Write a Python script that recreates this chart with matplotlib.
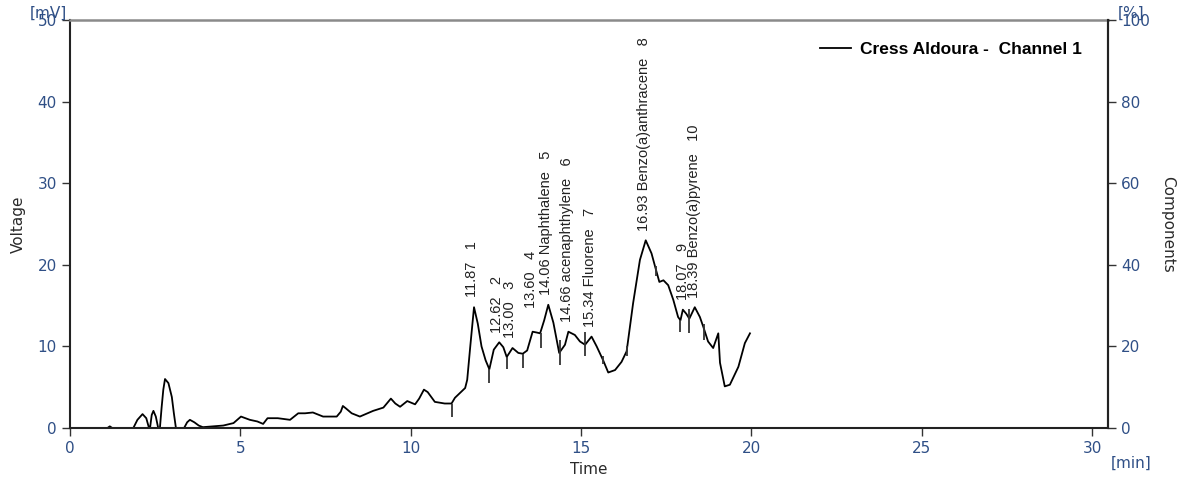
import numpy as np
import matplotlib
matplotlib.use("Agg")
import matplotlib.pyplot as plt

# Chromatogram trace: retention time [min] and detector voltage [mV]
time_min = [
    0.00, 1.10, 1.17, 1.24, 1.86, 1.98, 2.13, 2.24, 2.32, 2.35, 2.40, 2.45,
    2.52, 2.59, 2.64, 2.69, 2.74, 2.79, 2.89, 2.99, 3.05, 3.11, 3.35, 3.44,
    3.52, 3.65, 3.78, 3.90, 4.20, 4.50, 4.80, 5.02, 5.28, 5.50, 5.67, 5.80,
    6.10, 6.46, 6.70, 6.90, 7.13, 7.43, 7.83, 7.95, 8.01, 8.10, 8.27, 8.51,
    8.90, 9.20, 9.42, 9.55, 9.69, 9.90, 10.13, 10.25, 10.39, 10.50, 10.71,
    11.00, 11.20, 11.30, 11.45, 11.60, 11.66, 11.75, 11.86, 11.97, 12.08,
    12.20, 12.31, 12.44, 12.60, 12.72, 12.82, 12.99, 13.16, 13.29, 13.42,
    13.58, 13.70, 13.80, 13.92, 14.04, 14.19, 14.36, 14.53, 14.63, 14.82,
    14.97, 15.12, 15.31, 15.46, 15.65, 15.80, 16.00, 16.19, 16.34, 16.53,
    16.73, 16.90, 17.07, 17.20, 17.30, 17.42, 17.56, 17.71, 17.85, 17.92,
    17.99, 18.09, 18.18, 18.34, 18.49, 18.59, 18.73, 18.88, 19.03, 19.08,
    19.22, 19.37, 19.62, 19.81, 19.96,
]
voltage_mv = [
    0.0, 0.0, 0.2, 0.0, 0.0, 1.0, 1.7, 1.2, 0.0, 0.0, 1.6, 2.1,
    1.4, 0.0, 0.0, 2.5, 4.7, 6.0, 5.5, 3.8, 1.8, 0.0, 0.0, 0.7,
    1.0, 0.7, 0.3, 0.1, 0.2, 0.3, 0.6, 1.4, 1.0, 0.8, 0.5, 1.2,
    1.2, 1.0, 1.8, 1.8, 1.9, 1.4, 1.4, 2.0, 2.7, 2.4, 1.8, 1.4,
    2.1, 2.5, 3.6, 3.0, 2.6, 3.3, 2.9, 3.6, 4.7, 4.4, 3.2,
    3.0, 3.0, 3.7, 4.3, 4.9, 5.9, 10.0, 14.8, 12.8, 10.0,
    8.3, 7.2, 9.6, 10.5, 9.9, 8.7, 9.8, 9.2, 9.1, 9.5,
    11.8, 11.7, 11.6, 13.2, 15.1, 12.9, 9.2, 10.2, 11.8, 11.4,
    10.6, 10.2, 11.2, 10.0, 8.3, 6.8, 7.1, 8.1, 9.4, 15.3,
    20.6, 23.0, 21.4, 19.4, 17.9, 18.1, 17.5, 15.7, 13.6, 13.2,
    14.5, 14.0, 13.4, 14.8, 13.6, 12.4, 10.6, 9.8, 11.6, 8.0,
    5.1, 5.3, 7.5, 10.4, 11.6,
]

# Peak start/end markers: time, top and bottom of each tick [mV]
marker_t = [11.20, 12.31, 12.82, 13.29, 13.82, 14.37, 15.12, 15.65, 16.34, 17.20, 17.90, 18.18, 18.60]
marker_top = [3.0, 7.2, 8.7, 9.1, 11.6, 10.8, 11.8, 8.8, 10.0, 19.8, 13.2, 14.6, 12.8]
marker_bot = [1.3, 5.5, 7.2, 7.4, 9.8, 7.7, 8.8, 7.9, 8.8, 18.6, 11.8, 11.6, 10.8]

# Identified peaks
peak_rt = [11.87, 12.62, 13.00, 13.60, 14.06, 14.66, 15.34, 16.93, 18.07, 18.39]
peak_height = [14.8, 10.5, 9.8, 13.5, 15.1, 11.8, 11.2, 23.0, 14.5, 14.7]
peak_name = ["", "", "", "", "Naphthalene", "acenaphthylene", "Fluorene",
             "Benzo(a)anthracene", "", "Benzo(a)pyrene"]
peak_id = [1, 2, 3, 4, 5, 6, 7, 8, 9, 10]

tick_col = "#2f4f86"
label_col = "#2a2a2a"

fig = plt.figure(figsize=(11.98, 4.83), dpi=100)
ax = fig.add_axes([0.0584, 0.1139, 0.8665, 0.8447])

ax.plot(time_min, voltage_mv, color="black", lw=1.3, label="Cress Aldoura -  Channel 1")
ax.vlines(marker_t, marker_bot, marker_top, color="#333333", lw=1.3)

for rt, h, name, pid in zip(peak_rt, peak_height, peak_name, peak_id):
    txt = f"{rt:.2f} {name}   {pid}" if name else f"{rt:.2f}   {pid}"
    ax.text(rt - 0.08, h + 1.2, txt, rotation=90, ha="center", va="bottom",
            fontsize=10.5, color="#222222", family="Liberation Sans")

ax.set_xlim(0, 30.47)
ax.set_ylim(0, 50)
ax.set_xticks(range(0, 31, 5))
ax.set_yticks(range(0, 51, 10))
ax.tick_params(direction="out", length=6, width=1, colors="#333333",
               labelcolor=tick_col, labelsize=11)
for side in ("left", "bottom", "right"):
    ax.spines[side].set_linewidth(1.5)
    ax.spines[side].set_color("#222222")
ax.spines["top"].set_color("#8a8a8a")
ax.spines["top"].set_linewidth(1.8)

ax.set_ylabel("Voltage", fontsize=11, color=label_col, labelpad=8)
ax.set_xlabel("Time", fontsize=11, color=label_col, labelpad=4)

ax2 = ax.twinx()
ax2.set_ylim(0, 100)
ax2.set_yticks(range(0, 101, 20))
ax2.tick_params(direction="out", length=6, width=1, colors="#333333",
                labelcolor=tick_col, labelsize=11)
ax2.spines["right"].set_linewidth(1.5)
ax2.spines["right"].set_color("#222222")
ax2.spines["top"].set_visible(False)
ax2.spines["left"].set_visible(False)
ax2.spines["bottom"].set_visible(False)
ax2.set_ylabel("Components", fontsize=11, color=label_col, rotation=-90, labelpad=18)

# unit captions sit at the top of each axis, as the acquisition software prints them
fig.text(0.025, 0.972, "[mV]", fontsize=11, color=tick_col, ha="left", va="center")
fig.text(0.933, 0.972, "[%]", fontsize=11, color=tick_col, ha="left", va="center")
fig.text(0.927, 0.04, "[min]", fontsize=11, color=tick_col, ha="left", va="center")

leg = ax.legend(loc="upper right", bbox_to_anchor=(0.99, 0.985), frameon=False,
                handlelength=1.8, handletextpad=0.5,
                prop={"family": "Liberation Sans", "weight": "bold", "size": 12.5})

fig.savefig("out.png", dpi=100)
